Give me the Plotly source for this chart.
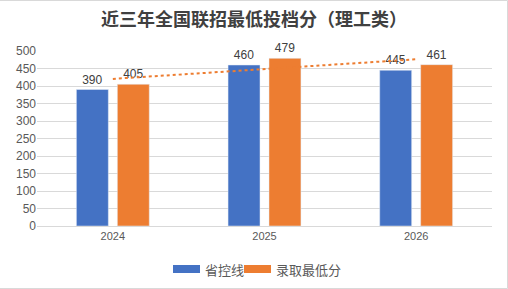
import plotly.graph_objects as go

years = ["2024", "2025", "2026"]
provincial_line = [390, 460, 445]
min_admission = [405, 479, 461]
series_names = ["省控线", "录取最低分"]
title_text = "近三年全国联招最低投档分（理工类）"

# linear trendline of 录取最低分 (Excel-style), computed from the data
n = len(min_admission)
xs = list(range(1, n + 1))
mx = sum(xs) / n
my = sum(min_admission) / n
slope = sum((x - mx) * (y - my) for x, y in zip(xs, min_admission)) / sum((x - mx) ** 2 for x in xs)
trend = [my + slope * (x - mx) for x in xs]

blue = "#4472C4"
orange = "#ED7D31"
colors = [blue, orange]
font_main = "Liberation Sans, Arial, sans-serif"
font_cjk = "Noto Sans CJK SC, sans-serif"

W, H = 508, 289
ml, mr, mt, mb = 37, 16, 51, 63
pw, ph = W - ml - mr, H - mt - mb

def px_x(x):
    return (x - ml) / pw

def px_y(y):
    return (H - mb - y) / ph

fig = go.Figure()
for name, vals, col in zip(series_names, [provincial_line, min_admission], colors):
    fig.add_trace(go.Bar(
        x=years, y=vals, name=name, showlegend=False,
        marker_color=col, text=vals, textposition="outside",
        textfont=dict(size=12, color="#404040", family=font_main),
        cliponaxis=False,
    ))
fig.add_trace(go.Scatter(
    x=years, y=trend, mode="lines", showlegend=False,
    line=dict(color=orange, width=2, dash="dot"), hoverinfo="skip",
))

# manual legend (wide rectangle swatches like the reference)
legend_items = [(173, 200, 203), (244, 271, 274)]
shapes = [dict(
    type="rect", xref="paper", yref="paper",
    x0=px_x(-0.5), x1=px_x(W - 0.5), y0=px_y(H - 0.5), y1=px_y(0.5),
    line=dict(color="#D9D9D9", width=1), layer="below",
)]
annotations = []
for (sx0, sx1, tx), name, col in zip(legend_items, series_names, colors):
    shapes.append(dict(
        type="rect", xref="paper", yref="paper",
        x0=px_x(sx0), x1=px_x(sx1), y0=px_y(273), y1=px_y(265),
        fillcolor=col, line=dict(width=0),
    ))
    annotations.append(dict(
        text=name, xref="paper", yref="paper", x=px_x(tx), y=px_y(269.5),
        xanchor="left", yanchor="middle", showarrow=False,
        font=dict(size=13, color="#595959", family=font_cjk),
    ))

fig.update_layout(
    width=W, height=H,
    margin=dict(l=ml, r=mr, t=mt, b=mb, autoexpand=False),
    paper_bgcolor="white", plot_bgcolor="white",
    barmode="group", bargap=0.46, bargroupgap=0.22,
    showlegend=False,
    title=dict(
        text="<b>" + title_text + "</b>",
        x=0.5, xanchor="center", y=1 - 20 / H, yanchor="middle",
        font=dict(size=18, color="#404040", family=font_cjk),
    ),
    font=dict(family=font_main, size=11, color="#595959"),
    xaxis=dict(
        showgrid=False, showline=True, linecolor="#D9D9D9", linewidth=1,
        ticks="", tickfont=dict(size=11, color="#595959"),
    ),
    yaxis=dict(
        range=[0, 500], dtick=50, showgrid=True, gridcolor="#D9D9D9",
        gridwidth=1, zeroline=False, showline=False, ticks="",
        tickfont=dict(size=12, color="#595959"),
    ),
    shapes=shapes,
    annotations=annotations,
)

fig.write_html("out.html")
